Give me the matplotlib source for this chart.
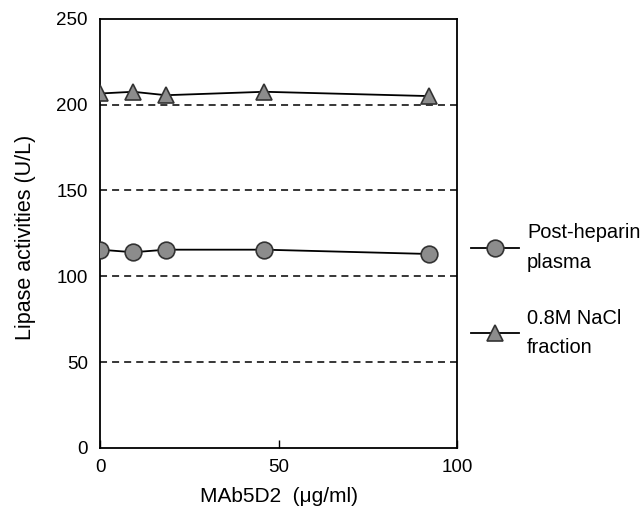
import matplotlib
matplotlib.use("Agg")
import matplotlib.pyplot as plt
from matplotlib.lines import Line2D

plt.rcParams['font.family'] = ['Liberation Sans', 'DejaVu Sans']

conc = [0, 9.2, 18.4, 46, 92]
plasma = [115.5, 114, 115.5, 115.5, 113]
nacl = [206.5, 207.5, 205.5, 207.5, 205]
yticks = [0, 50, 100, 150, 200, 250]
xticks = [0, 50, 100]
grid_levels = [50, 100, 150, 200]

fig = plt.figure(figsize=(6.43, 5.09), dpi=100)
ax = fig.add_axes([0.156, 0.120, 0.555, 0.843])

for g in grid_levels:
    ax.axhline(g, color='black', lw=1.1, ls=(0, (4.6, 3.3)), zorder=1)

gray = '#8c8c8c'
mk = dict(ms=12, mfc=gray, mec='#333333', mew=1.2)
ax.plot(conc, plasma, color='black', lw=1.3, marker='o', zorder=3, **mk)
ax.plot(conc, nacl, color='black', lw=1.3, marker='^', zorder=3, **mk)

ax.set_xlim(0, 100)
ax.set_ylim(0, 250)
ax.set_xticks(xticks)
ax.set_yticks(yticks)
ax.tick_params(axis='x', direction='in', length=6, width=1, pad=8, labelsize=13.5)
ax.tick_params(axis='y', length=0, pad=9, labelsize=13.5)
for s in ax.spines.values():
    s.set_linewidth(1.3)

ax.set_ylabel('Lipase activities (U/L)', fontsize=15.5)
ax.yaxis.set_label_coords(-0.18, 0.49)
ax.set_xlabel('MAb5D2  (\u03bcg/ml)', fontsize=15, labelpad=8)

handles = [
    Line2D([], [], color='black', lw=1.3, marker='o', **mk),
    Line2D([], [], color='black', lw=1.3, marker='^', **mk),
]
leg = fig.legend(handles, ['Post-heparin\nplasma', '0.8M NaCl\nfraction'],
                 loc='center left', bbox_to_anchor=(0.7325, 0.43), frameon=False,
                 fontsize=14.4, handlelength=2.4, labelspacing=1.85, handletextpad=0.4,
                 borderpad=0, borderaxespad=0)
for t in leg.get_texts():
    t.set_linespacing(1.7)

fig.savefig('out.png', dpi=100)
